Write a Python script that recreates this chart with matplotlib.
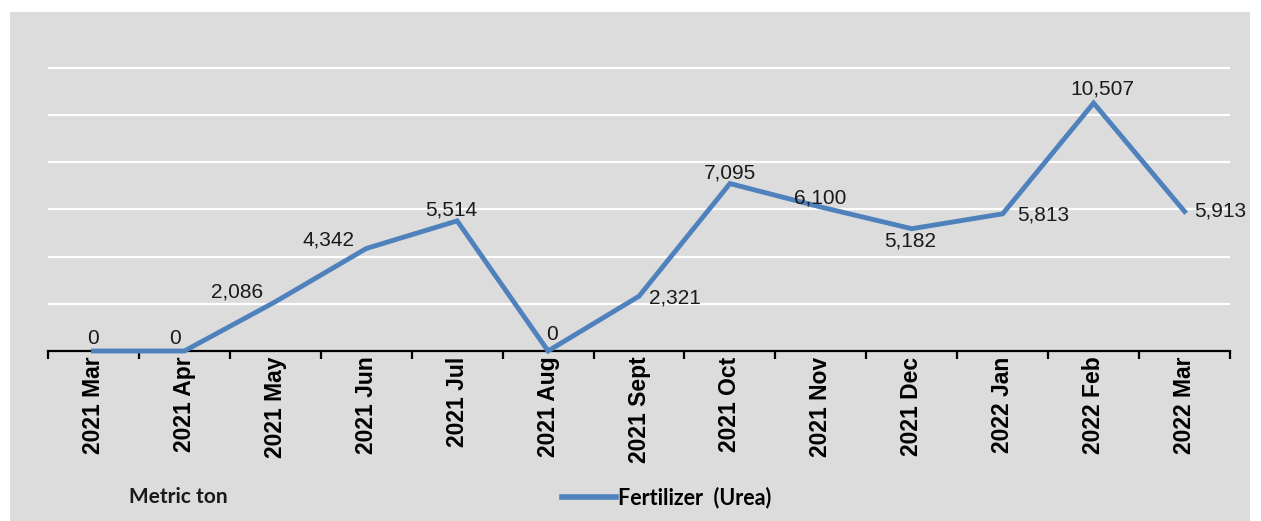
import matplotlib
matplotlib.use("Agg")
import matplotlib.pyplot as plt
from matplotlib.patches import Rectangle
from matplotlib.lines import Line2D

months = ["2021 Mar", "2021 Apr", "2021 May", "2021 Jun", "2021 Jul", "2021 Aug",
          "2021 Sept", "2021 Oct", "2021 Nov", "2021 Dec", "2022 Jan", "2022 Feb", "2022 Mar"]
urea = [0, 0, 2086, 4342, 5514, 0, 2321, 7095, 6100, 5182, 5813, 10507, 5913]
series_name = "Fertilizer  (Urea)"
unit_label = "Metric ton"

# label offsets in pixels (dx, dy) relative to each point
label_offsets = [(0, 12), (-9, 12), (-38, 10), (-38, 9), (-6, 11), (4, 17),
                 (36, -2), (0, 11), (-1, 9), (-2, -12), (41, -1), (9, 14), (36, 0)]

W, H = 1261, 521
fig = plt.figure(figsize=(W / 100, H / 100), dpi=100, facecolor="white")
bg = "#dcdcdc"
fig.patches.append(Rectangle((10 / W, 0), (1250 - 10) / W, (H - 12) / H,
                             transform=fig.transFigure, facecolor=bg, edgecolor="none", zorder=-10))

ymax = 12100
px_per_unit = 47.2 / 2000
base_y = 351
top_y = base_y - ymax * px_per_unit
left, right = 48, 1230
ax = fig.add_axes([left / W, (H - base_y) / H, (right - left) / W, (base_y - top_y) / H])
ax.set_facecolor("none")
ax.set_xlim(-0.5, len(months) - 0.5)
ax.set_ylim(0, ymax)

for s in ["top", "right", "left"]:
    ax.spines[s].set_visible(False)
ax.spines["bottom"].set_color("black")
ax.spines["bottom"].set_linewidth(1.6)
ax.spines["bottom"].set_zorder(3)

ax.set_yticks(range(2000, 12001, 2000))
ax.tick_params(axis="y", left=False, labelleft=False)
ax.yaxis.grid(True, color="white", linewidth=1.6)
ax.set_axisbelow(True)

x = list(range(len(months)))
ax.set_xticks(x)
ax.set_xticklabels(months, rotation=90, fontsize=16.5, fontweight="bold",
                   family=["Liberation Sans", "DejaVu Sans"], va="top", ha="center")
ax.tick_params(axis="x", which="major", length=0, pad=4)
ax.set_xticks([i - 0.5 for i in range(len(months) + 1)], minor=True)
ax.tick_params(axis="x", which="minor", length=6, width=1.6, color="black", direction="out")

line_color = "#4f81bd"
ax.plot(x, urea, color=line_color, linewidth=3.5, clip_on=False, zorder=4,
        solid_joinstyle="miter")

for xi, v, (dx, dy) in zip(x, urea, label_offsets):
    ax.annotate(f"{v:,}", (xi, v), xytext=(dx, dy), textcoords="offset pixels",
                ha="center", va="center", fontsize=15, color="#1a1a1a",
                family=["Liberation Sans", "DejaVu Sans"], zorder=5, annotation_clip=False)

fig.text(178 / W, (H - 497) / H, unit_label, ha="center", va="center",
         fontsize=15, fontweight="bold", family=["Lato", "DejaVu Sans"], color="#1a1a1a")

handle = Line2D([0], [0], color=line_color, linewidth=4)
fig.legend([handle], [series_name], loc="center", bbox_to_anchor=(667 / W, (H - 498) / H),
           frameon=False, handlelength=2.5, handletextpad=0.1,
           prop={"family": ["Lato", "DejaVu Sans"], "weight": "bold", "size": 15.5})

fig.savefig("out.png", dpi=100, facecolor="white")
